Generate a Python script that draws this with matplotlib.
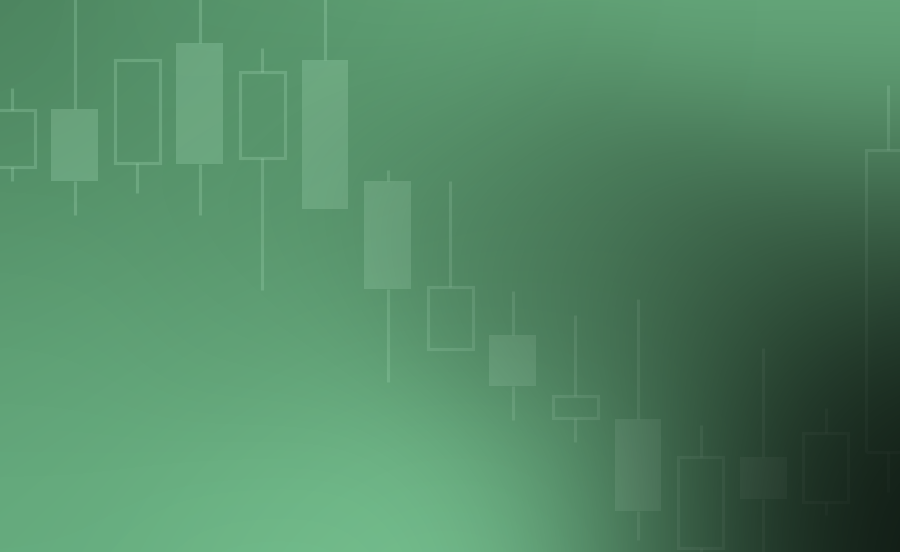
import numpy as np
import matplotlib.pyplot as plt
from matplotlib.patches import Rectangle

# --- Candle data (price units, index = candle position) ---
opens = [385, 443, 389, 509, 394, 492, 371, 203, 217, 134, 133, 4, 95, 50, 100]
closes = [442, 371, 492, 388, 480, 343, 263, 265, 166, 156, 41, 95, 53, 119, 402]
highs = [464, 570, 492, 570, 504, 570, 382, 371, 261, 237, 253, 127, 204, 144, 467]
lows = [371, 337, 359, 337, 262, 343, 170, 203, 132, 110, 12, -10, -10, 37, 60]

W, H = 900, 552
X0, STEP = 12, 62.6
BODY_W = 0.72
CANDLE_COLOR = "#b8f2cc"
CANDLE_ALPHA = 0.26

fig = plt.figure(figsize=(9, 5.52), dpi=100)
ax = fig.add_axes([0, 0, 1, 1])
xmin, xmax = -X0 / STEP, (W - X0) / STEP
ax.set_xlim(xmin, xmax)
ax.set_ylim(0, H)
ax.axis("off")

# --- background: base hue field + shade field ---
yy, xx = np.mgrid[0:H, 0:W].astype(float)


def blend(points, sigma):
    num = 0
    den = 0
    for (px, py, val) in points:
        w = np.exp(-((xx - px) ** 2 + (yy - py) ** 2) / (2 * sigma ** 2))
        num = num + w[..., None] * np.array(val, dtype=float)
        den = den + w
    return num / den[..., None]


base_pts = [
    (0, 0, (80, 140, 100)), (250, 0, (92, 158, 114)), (500, 0, (100, 168, 122)),
    (750, 0, (104, 172, 126)), (900, 0, (106, 174, 128)),
    (0, 250, (96, 162, 118)), (300, 250, (102, 170, 124)), (600, 250, (104, 172, 126)),
    (900, 250, (104, 172, 126)),
    (0, 552, (104, 176, 130)), (250, 480, (110, 184, 136)), (450, 552, (126, 202, 152)),
    (650, 552, (110, 184, 136)), (900, 552, (100, 165, 122)),
]
shade_pts = [
    (0, 0, (0.12,)), (200, 0, (0.05,)), (450, 20, (0.0,)), (700, 20, (0.0,)), (900, 0, (0.0,)),
    (850, 90, (0.04,)),
    (0, 150, (0.08,)), (250, 130, (0.1,)), (450, 170, (0.2,)), (600, 200, (0.3,)),
    (750, 220, (0.42,)), (900, 200, (0.38,)),
    (0, 350, (0.05,)), (300, 330, (0.08,)), (550, 300, (0.28,)), (700, 320, (0.5,)),
    (850, 300, (0.62,)), (900, 360, (0.75,)),
    (0, 552, (0.02,)), (300, 552, (0.0,)), (450, 552, (0.0,)), (580, 480, (0.1,)),
    (680, 552, (0.35,)), (720, 440, (0.5,)), (820, 480, (0.82,)), (900, 480, (0.9,)),
    (900, 552, (0.9,)), (800, 552, (0.75,)),
]
base = blend(base_pts, 170) / 255.0
shade = blend(shade_pts, 100)[..., 0]

ext = (xmin, xmax, 0, H)
ax.imshow(base, extent=ext, origin="upper", aspect="auto", zorder=0)

# --- candles ---
for i, (o, c, h, l) in enumerate(zip(opens, closes, highs, lows)):
    top, bot = max(o, c), min(o, c)
    if h > top:
        ax.plot([i, i], [top, h], color=CANDLE_COLOR, alpha=CANDLE_ALPHA, lw=2.3,
                solid_capstyle="butt", zorder=2)
    if l < bot:
        ax.plot([i, i], [l, bot], color=CANDLE_COLOR, alpha=CANDLE_ALPHA, lw=2.3,
                solid_capstyle="butt", zorder=2)
    if c >= o:
        rect = Rectangle((i - BODY_W / 2, bot), BODY_W, top - bot, facecolor="none",
                         edgecolor=CANDLE_COLOR, alpha=CANDLE_ALPHA, lw=2.3, zorder=2)
    else:
        rect = Rectangle((i - (BODY_W + 0.03) / 2, bot), BODY_W + 0.03, top - bot,
                         facecolor=CANDLE_COLOR, edgecolor="none", alpha=CANDLE_ALPHA, zorder=2)
    ax.add_patch(rect)

# --- dark vignette on top ---
overlay = np.zeros((H, W, 4))
overlay[..., 3] = np.clip(shade, 0, 1)
ax.imshow(overlay, extent=ext, origin="upper", aspect="auto", zorder=3)

fig.savefig("out.png", dpi=100)
